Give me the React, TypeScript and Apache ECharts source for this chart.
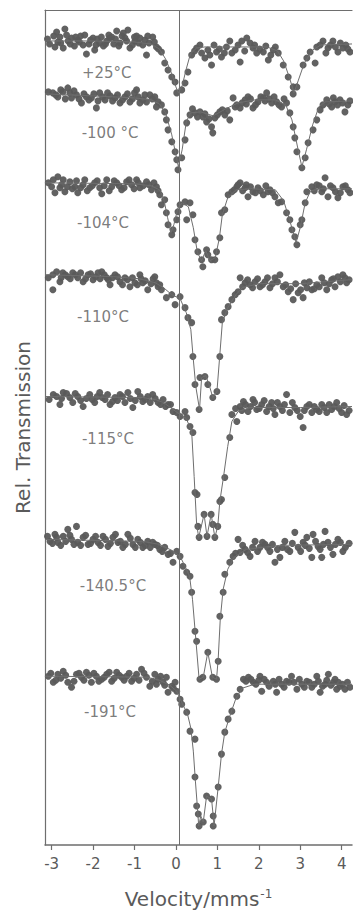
import React, { useEffect, useRef } from "react";
import * as echarts from "echarts";

// Velocity axis (mm/s)
const velocityMin = -3.16;
const velocityMax = 4.25;
const velocityTicks = [-3, -2, -1, 0, 1, 2, 3, 4];
const zeroLineVelocity = 0.07;

// Stacked spectra: vertical range (arbitrary transmission units) and offsets
const transmissionMin = 0;
const transmissionMax = 836;
const temperatures = ["+25°C", "-100 °C", "-104°C", "-110°C", "-115°C", "-140.5°C", "-191°C"];
const baselines = [805, 751, 663, 571, 449, 306, 169];
// label anchor: [velocity, offset from baseline]
const labelAnchors = [
  [-1.67, -32], [-1.59, -38], [-1.76, -40], [-1.76, -42], [-1.64, -43], [-1.52, -47], [-1.59, -36],
];

// Measured points: [velocity, relative transmission change]
const pts25 = [
  [-3.05, -3], [-2.92, -6], [-2.88, 9], [-2.85, -1], [-2.8, 4], [-2.72, -7], [-2.68, 12], [-2.6, 0],
  [-2.52, 3], [-2.45, -5], [-2.37, 1], [-2.3, 5], [-2.24, -4], [-2.16, -13], [-2.1, -3], [-2.0, 3],
  [-1.96, -9], [-1.9, 2], [-1.84, -2], [-1.75, -5], [-1.67, 0], [-1.6, 3], [-1.55, 4], [-1.5, -3],
  [-1.43, 10], [-1.35, -2], [-1.3, 5], [-1.23, 3], [-1.16, 11], [-1.11, -7], [-1.05, -4], [-0.99, 0],
  [-0.95, 5], [-0.87, 3], [-0.8, -4], [-0.71, -14], [-0.65, -2], [-0.56, 4], [-0.47, -6], [-0.35, -11],
  [-0.27, -22], [-0.19, -29], [-0.1, -36], [-0.02, -41], [0.02, -52], [0.14, -49], [0.22, -42], [0.29, -31],
  [0.38, -14], [0.5, -7], [0.58, -4], [0.7, -17], [0.77, -9], [0.86, -24], [0.98, -11], [1.1, -16],
  [1.22, -6], [1.3, 0], [1.43, -9], [1.55, -21], [1.59, 0], [1.71, 3], [1.86, -7], [1.95, -12],
  [2.11, -11], [2.23, -19], [2.35, -9], [2.47, -12], [2.59, -24], [2.71, -36], [2.83, -46], [2.83, -53],
  [2.92, -46], [3.07, -24], [3.16, -17], [3.24, -11], [3.36, -22], [3.4, -6], [3.55, 0], [3.67, -7],
  [3.79, 0], [3.91, -11], [4.03, -7], [4.2, -11],
  [-3.1, 2], [-2.95, 5], [-2.78, -2], [-2.64, 6], [-2.55, -3], [-2.42, 4], [-2.33, -1], [-2.2, 6],
  [-2.06, 1], [-1.93, -4], [-1.8, 4], [-1.7, -3], [-1.62, 6], [-1.46, 2], [-1.38, -5], [-1.27, 8],
  [-1.19, 0], [-1.0, 4], [-0.9, -2], [-0.75, 1], [-0.68, 5], [-0.52, -1], [-0.42, -8], [0.45, -10],
  [0.62, -12], [0.82, -14], [0.92, -4], [1.05, -8], [1.17, -12], [1.35, -12], [1.5, -4], [1.66, -10],
  [1.79, -2], [1.9, -4], [2.02, -8], [2.17, -5], [2.29, -14], [2.4, -6], [3.48, -4], [3.62, -12],
  [3.73, -4], [3.85, -6], [3.97, -2], [4.1, -4], [4.15, -8],
];
const pts100 = [
  [-2.97, 2], [-2.85, -2], [-2.73, 3], [-2.61, 7], [-2.52, -3], [-2.4, 0], [-2.28, -8], [-2.16, -2],
  [-2.04, -3], [-1.92, -13], [-1.84, 2], [-1.71, -5], [-1.59, -1], [-1.47, -3], [-1.35, -8], [-1.23, -2],
  [-1.11, -7], [-0.95, 5], [-0.87, -8], [-0.71, -7], [-0.63, 0], [-0.51, -2], [-0.43, -7], [-0.35, -10],
  [-0.27, -17], [-0.23, -25], [-0.19, -35], [-0.1, -47], [-0.02, -57], [0.02, -65], [0.05, -75], [0.14, -63],
  [0.22, -45], [0.26, -28], [0.34, -20], [0.46, -18], [0.58, -17], [0.65, -22], [0.74, -27], [0.86, -32],
  [0.89, -38], [0.94, -23], [1.06, -17], [1.18, -20], [1.3, -25], [1.38, -3], [1.47, -10], [1.55, -13],
  [1.67, -5], [1.74, -2], [1.86, -13], [1.98, -7], [2.11, -3], [2.19, 2], [2.31, -8], [2.43, -7],
  [2.55, -12], [2.67, -8], [2.75, -18], [2.83, -32], [2.87, -43], [2.92, -57], [3.04, -73], [3.12, -63],
  [3.19, -48], [3.31, -35], [3.4, -25], [3.48, -15], [3.55, -10], [3.64, -5], [3.76, -12], [3.84, -7],
  [3.96, -5], [4.08, -17], [4.15, -10],
  [-3.08, 3], [-2.9, 0], [-2.78, 5], [-2.67, -4], [-2.56, 2], [-2.46, 4], [-2.34, -4], [-2.22, 1],
  [-2.1, -5], [-1.98, 1], [-1.88, -6], [-1.77, -2], [-1.65, 2], [-1.53, -6], [-1.41, 0], [-1.29, -5],
  [-1.17, 1], [-1.05, -4], [-1.0, 2], [-0.91, -2], [-0.8, -5], [-0.75, 0], [-0.57, -4], [-0.47, -12],
  [0.4, -14], [0.52, -22], [0.7, -19], [0.8, -24], [1.0, -20], [1.12, -15], [1.24, -16], [1.43, -12],
  [1.6, -8], [1.7, -9], [1.8, -4], [1.92, -10], [2.05, -2], [2.15, -6], [2.25, -4], [2.37, -2],
  [2.49, -10], [2.61, -4], [3.7, -9], [3.8, -3], [3.9, -10], [4.02, -8], [4.2, -6],
];
const pts104 = [
  [-3.0, -4], [-2.92, -10], [-2.85, 6], [-2.76, -2], [-2.68, -9], [-2.56, 1], [-2.44, -4], [-2.37, -10],
  [-2.24, -2], [-2.2, 3], [-2.08, -5], [-1.96, 0], [-1.79, -11], [-1.67, 3], [-1.55, -4], [-1.43, 0],
  [-1.31, -7], [-1.19, 1], [-1.07, -2], [-0.95, 3], [-0.87, -5], [-0.71, 1], [-0.59, -7], [-0.47, -4],
  [-0.39, -12], [-0.35, -22], [-0.27, -17], [-0.23, -30], [-0.19, -42], [-0.1, -52], [-0.07, -47], [0.02, -37],
  [0.05, -29], [0.1, -22], [0.22, -19], [0.26, -37], [0.34, -20], [0.41, -32], [0.46, -57], [0.53, -69],
  [0.62, -77], [0.65, -84], [0.74, -67], [0.77, -72], [0.86, -77], [0.94, -77], [0.98, -69], [1.06, -55],
  [1.1, -30], [1.18, -27], [1.26, -12], [1.35, -9], [1.47, -4], [1.55, 0], [1.67, -5], [1.74, -14],
  [1.86, -9], [1.98, -5], [2.11, -12], [2.27, -7], [2.39, -14], [2.47, -20], [2.55, -19], [2.67, -30],
  [2.75, -37], [2.8, -47], [2.87, -54], [2.92, -62], [3.0, -42], [3.04, -37], [3.12, -20], [3.16, -9],
  [3.28, -4], [3.4, -2], [3.52, -9], [3.6, 5], [3.67, -14], [3.79, -5], [3.91, -15], [4.03, -4], [4.15, -7],
  [-3.08, 0], [-2.96, 3], [-2.8, -5], [-2.72, 3], [-2.62, -4], [-2.5, -6], [-2.4, 2], [-2.3, -5],
  [-2.14, -8], [-2.02, -3], [-1.9, 2], [-1.84, -5], [-1.73, -3], [-1.61, -8], [-1.49, 2], [-1.37, -3],
  [-1.25, -5], [-1.13, 3], [-1.01, -6], [-0.91, 0], [-0.79, -3], [-0.65, -2], [-0.53, 0], [-0.43, -8],
  [1.41, -7], [1.5, -2], [1.61, -8], [1.7, -2], [1.8, -4], [1.92, -10], [2.04, -8], [2.17, -3],
  [2.22, -9], [2.33, -10], [3.34, -8], [3.46, -3], [3.56, -6], [3.73, -3], [3.85, -9], [3.97, -10],
  [4.09, -3], [4.2, -10],
];
const pts110 = [
  [-2.97, 0], [-2.97, -15], [-2.8, -7], [-2.73, 2], [-2.61, -2], [-2.49, 2], [-2.37, -3], [-2.24, -7],
  [-2.12, 0], [-2.0, -5], [-1.88, 2], [-1.79, 3], [-1.67, -3], [-1.59, -10], [-1.47, 0], [-1.35, -7],
  [-1.23, -3], [-1.11, -12], [-0.99, -8], [-0.87, 0], [-0.8, -8], [-0.68, -15], [-0.51, -2], [-0.43, -12],
  [-0.35, -15], [-0.23, -23], [-0.1, -20], [-0.02, -30], [0.1, -22], [0.22, -33], [0.29, -43], [0.38, -48],
  [0.41, -82], [0.46, -110], [0.56, -135], [0.58, -103], [0.7, -102], [0.77, -110], [0.89, -123], [0.99, -117],
  [1.06, -82], [1.1, -45], [1.18, -38], [1.26, -32], [1.35, -25], [1.43, -20], [1.5, -17], [1.55, -3],
  [1.67, -8], [1.79, -10], [1.91, -7], [2.03, -12], [2.15, -7], [2.27, -13], [2.39, -3], [2.51, 0],
  [2.59, -12], [2.71, -17], [2.83, -25], [2.95, -18], [3.07, -23], [3.16, -13], [3.28, -15], [3.4, -10],
  [3.52, -3], [3.64, -15], [3.76, -5], [3.84, -12], [3.91, -2], [4.03, 0], [4.12, -8],
  [-3.08, -3], [-2.88, 3], [-2.77, -3], [-2.67, 0], [-2.55, -4], [-2.43, 0], [-2.3, 2], [-2.18, -4],
  [-2.06, 1], [-1.94, -2], [-1.83, -4], [-1.73, 0], [-1.63, -5], [-1.53, -3], [-1.41, -2], [-1.29, -10],
  [-1.17, -5], [-1.05, -3], [-0.93, -10], [-0.84, -4], [-0.74, -6], [-0.6, -9], [-0.55, -4], [-0.47, -8],
  [-0.39, -10], [1.61, -12], [1.73, -5], [1.85, -13], [1.97, -4], [2.09, -10], [2.21, -3], [2.33, -9],
  [2.45, -7], [2.65, -10], [2.77, -14], [2.89, -9], [3.01, -15], [3.1, -8], [3.22, -7], [3.34, -14],
  [3.46, -12], [3.58, -8], [3.7, -9], [3.8, -4], [3.97, -7], [4.08, -3], [4.18, -5],
];
const pts115 = [
  [-2.96, 2], [-2.8, -8], [-2.72, 4], [-2.56, -1], [-2.49, -6], [-2.37, 0], [-2.24, -10], [-2.08, 2],
  [-1.96, -6], [-1.84, 4], [-1.71, -3], [-1.59, -8], [-1.47, -1], [-1.35, 2], [-1.23, -6], [-1.16, 4],
  [-1.04, -11], [-0.92, 5], [-0.8, -5], [-0.68, 0], [-0.56, 2], [-0.43, -6], [-0.31, -3], [-0.19, -8],
  [-0.07, -15], [0.1, -20], [0.22, -15], [0.26, -21], [0.34, -30], [0.41, -36], [0.46, -96], [0.51, -98],
  [0.53, -130], [0.56, -141], [0.68, -118], [0.75, -140], [0.85, -118], [0.89, -128], [0.94, -141], [1.01, -130],
  [1.06, -105], [1.1, -103], [1.18, -81], [1.3, -41], [1.35, -18], [1.47, -25], [1.55, -10], [1.63, -5],
  [1.74, -15], [1.86, -3], [1.95, -13], [2.07, -8], [2.19, -15], [2.31, -6], [2.39, -18], [2.51, -10],
  [2.67, 2], [2.75, -16], [2.87, -11], [3.0, -20], [3.07, -31], [3.16, -10], [3.28, -16], [3.4, -13],
  [3.52, -8], [3.64, -16], [3.76, -13], [3.88, -6], [4.0, -16], [4.12, -18],
  [-3.06, -3], [-2.88, 0], [-2.76, -2], [-2.64, 3], [-2.43, 3], [-2.3, -4], [-2.16, -2], [-2.02, -3],
  [-1.9, 0], [-1.78, -1], [-1.65, 2], [-1.53, -5], [-1.41, -4], [-1.29, 0], [-1.1, -2], [-0.98, -4],
  [-0.86, 0], [-0.74, -3], [-0.62, -6], [-0.5, -2], [-0.37, -8], [-0.25, -10], [-0.13, -8], [0.02, -16],
  [1.44, -12], [1.59, -14], [1.68, -8], [1.8, -10], [1.9, -6], [2.01, -12], [2.13, -4], [2.25, -10],
  [2.35, -12], [2.45, -6], [2.57, -14], [2.62, -8], [2.81, -6], [2.93, -14], [3.1, -14], [3.22, -8],
  [3.34, -10], [3.46, -15], [3.58, -11], [3.7, -8], [3.82, -10], [3.94, -12], [4.06, -9], [4.18, -14],
];
const pts140 = [
  [-3.04, -2], [-2.92, 5], [-2.85, -3], [-2.72, 3], [-2.61, 10], [-2.52, 0], [-2.4, 13], [-2.37, -3],
  [-2.24, 2], [-2.12, -5], [-2.0, 0], [-1.88, -3], [-1.76, 3], [-1.64, -7], [-1.52, 2], [-1.4, -3],
  [-1.28, -8], [-1.16, 5], [-1.04, -5], [-0.92, 0], [-0.8, -8], [-0.68, -2], [-0.51, -5], [-0.39, -10],
  [-0.27, -8], [-0.19, -15], [-0.07, -23], [0.02, -12], [0.1, -17], [0.17, -27], [0.26, -33], [0.34, -37],
  [0.38, -53], [0.46, -92], [0.5, -102], [0.58, -140], [0.65, -138], [0.77, -113], [0.89, -138], [0.98, -140],
  [1.02, -122], [1.06, -77], [1.14, -53], [1.18, -35], [1.3, -23], [1.38, -17], [1.5, 0], [1.55, -13],
  [1.67, -10], [1.79, -17], [1.91, -2], [2.03, -8], [2.15, -5], [2.27, -12], [2.39, -23], [2.51, -18],
  [2.63, -2], [2.75, -12], [2.87, 7], [2.95, -8], [3.07, -3], [3.16, 2], [3.28, -18], [3.31, 5],
  [3.43, -7], [3.52, -18], [3.6, 8], [3.67, -3], [3.79, -15], [3.91, 0], [4.03, -12],
  [-3.1, 3], [-2.98, -4], [-2.88, 2], [-2.78, -6], [-2.66, -2], [-2.56, 4], [-2.46, -5], [-2.3, -6],
  [-2.18, 4], [-2.06, -4], [-1.94, 3], [-1.82, -6], [-1.7, 0], [-1.58, -4], [-1.46, 5], [-1.34, -2],
  [-1.22, -5], [-1.1, 1], [-0.98, -8], [-0.86, -3], [-0.74, -6], [-0.62, -8], [-0.56, -3], [-0.45, -6],
  [-0.33, -12], [-0.13, -14], [1.44, -14], [1.61, -6], [1.73, -13], [1.85, -8], [1.97, -12], [2.09, -3],
  [2.21, -8], [2.33, -5], [2.45, -10], [2.57, -8], [2.69, -10], [2.81, -4], [3.01, -12], [3.12, -6],
  [3.22, -9], [3.37, -2], [3.48, -10], [3.56, -5], [3.73, -8], [3.85, -5], [3.97, -3], [4.09, -8], [4.18, -4],
];
const pts191 = [
  [-3.08, 0], [-2.96, -6], [-2.85, 2], [-2.72, 5], [-2.61, -6], [-2.52, -11], [-2.4, 2], [-2.28, -1],
  [-2.16, 4], [-2.04, -6], [-1.92, 0], [-1.79, -3], [-1.67, 2], [-1.55, -5], [-1.43, 4], [-1.31, -1],
  [-1.19, 0], [-1.07, -5], [-0.95, 2], [-0.83, 7], [-0.71, -1], [-0.63, -10], [-0.51, 2], [-0.43, -3],
  [-0.31, -6], [-0.23, -1], [-0.19, -16], [-0.1, -10], [-0.02, -6], [0.02, -15], [0.1, -23], [0.14, -28],
  [0.26, -36], [0.34, -55], [0.46, -63], [0.46, -101], [0.5, -130], [0.54, -138], [0.56, -150], [0.66, -146],
  [0.74, -120], [0.86, -123], [0.9, -140], [0.9, -150], [1.02, -111], [1.1, -78], [1.18, -56], [1.26, -43],
  [1.35, -35], [1.47, -20], [1.55, -13], [1.63, -3], [1.75, -1], [1.87, -6], [2.03, 0], [2.07, -15],
  [2.19, -6], [2.35, -5], [2.43, -16], [2.55, -8], [2.67, -5], [2.79, 0], [2.92, -13], [3.04, -8],
  [3.16, -5], [3.28, -11], [3.4, 0], [3.48, -16], [3.6, -8], [3.68, 2], [3.8, -6], [3.88, -13],
  [3.96, -10], [4.08, -13],
  [-3.02, 3], [-2.9, -4], [-2.78, -2], [-2.66, 1], [-2.46, -5], [-2.34, 3], [-2.22, -4], [-2.1, 1],
  [-1.98, 3], [-1.86, -5], [-1.73, -1], [-1.61, 4], [-1.49, -2], [-1.37, 1], [-1.25, -4], [-1.13, 3],
  [-1.01, -2], [-0.89, -4], [-0.77, 3], [-0.57, -5], [-0.47, -8], [-0.37, 0], [-0.27, -9], [-0.06, -12],
  [1.69, -5], [1.81, -3], [1.93, -8], [2.0, -4], [2.13, -3], [2.25, -10], [2.4, -8], [2.49, -3],
  [2.61, -11], [2.73, -6], [2.85, -6], [2.98, -3], [3.1, -11], [3.22, -6], [3.34, -8], [3.44, -5],
  [3.54, -10], [3.64, -4], [3.74, -9], [3.84, -3], [3.92, -6], [4.02, -8], [4.14, -6], [4.2, -11],
];

// Fitted curves: [velocity, relative transmission change]
const fit25 = [
  [-3.16, 0], [-2.0, 0], [-1.0, -1], [-0.6, -3], [-0.4, -8], [-0.25, -18], [-0.1, -33], [0.0, -46],
  [0.06, -52], [0.15, -45], [0.25, -28], [0.35, -13], [0.5, -7], [0.7, -6], [1.5, -6], [2.2, -6],
  [2.45, -10], [2.6, -20], [2.75, -38], [2.85, -52], [2.95, -40], [3.1, -22], [3.3, -9], [3.5, -4], [4.25, -3],
];
const fit100 = [
  [-3.16, 1], [-2.0, -1], [-1.0, -3], [-0.6, -5], [-0.4, -9], [-0.25, -18], [-0.1, -40], [0.0, -60],
  [0.06, -72], [0.15, -55], [0.25, -27], [0.35, -18], [0.6, -17], [0.9, -21], [1.2, -14], [1.5, -8],
  [1.9, -5], [2.4, -5], [2.65, -10], [2.8, -25], [2.95, -55], [3.04, -72], [3.15, -55], [3.3, -30],
  [3.45, -12], [3.6, -7], [4.25, -6],
];
const fit104 = [
  [-3.16, 0], [-1.0, -1], [-0.6, -3], [-0.4, -7], [-0.3, -15], [-0.2, -35], [-0.12, -50], [-0.05, -42],
  [0.05, -25], [0.15, -20], [0.3, -24], [0.42, -45], [0.52, -70], [0.62, -78], [0.72, -68], [0.82, -78],
  [0.95, -75], [1.05, -55], [1.12, -32], [1.25, -15], [1.45, -7], [1.8, -6], [2.4, -7], [2.6, -18],
  [2.75, -38], [2.9, -60], [3.0, -45], [3.12, -20], [3.25, -8], [3.5, -6], [4.25, -6],
];
const fit110 = [
  [-3.16, 0], [-1.5, -2], [-0.9, -4], [-0.5, -8], [-0.3, -13], [-0.1, -20], [0.1, -24], [0.25, -38],
  [0.36, -55], [0.42, -85], [0.48, -112], [0.57, -135], [0.62, -103], [0.72, -101], [0.8, -110], [0.89, -123],
  [0.99, -117], [1.06, -80], [1.12, -48], [1.25, -33], [1.45, -20], [1.6, -13], [2.0, -9], [3.0, -9], [4.25, -5],
];
const fit115 = [
  [-3.16, 0], [-0.8, -1], [-0.5, -3], [-0.3, -6], [-0.1, -12], [0.1, -18], [0.25, -22], [0.38, -35],
  [0.44, -80], [0.5, -128], [0.55, -141], [0.68, -118], [0.75, -140], [0.85, -118], [0.89, -128], [0.94, -141],
  [1.01, -130], [1.06, -105], [1.15, -80], [1.25, -50], [1.35, -25], [1.5, -15], [1.8, -11], [3.0, -11], [4.25, -10],
];
const fit140 = [
  [-3.16, 0], [-0.8, -2], [-0.4, -5], [-0.1, -11], [0.1, -17], [0.22, -27], [0.33, -37], [0.4, -60],
  [0.48, -100], [0.56, -140], [0.66, -138], [0.77, -113], [0.88, -138], [0.98, -140], [1.02, -120], [1.07, -80],
  [1.14, -50], [1.25, -30], [1.4, -18], [1.7, -10], [2.5, -6], [4.25, -5],
];
const fit191 = [
  [-3.16, 0], [-0.7, -1], [-0.4, -4], [-0.15, -9], [0.02, -15], [0.15, -27], [0.28, -38], [0.36, -52],
  [0.42, -75], [0.47, -105], [0.52, -132], [0.55, -150], [0.6, -140], [0.66, -146], [0.74, -120], [0.86, -123],
  [0.9, -140], [0.92, -150], [1.02, -111], [1.1, -78], [1.18, -56], [1.3, -40], [1.45, -22], [1.6, -12],
  [1.9, -8], [4.25, -8],
];

const pointSets = [pts25, pts100, pts104, pts110, pts115, pts140, pts191];
const fitSets = [fit25, fit100, fit104, fit110, fit115, fit140, fit191];

const INK = "#5a5a5a";
const LINE = "#6e6e6e";
const FONT = "DejaVu Sans";

export default function App() {
  const ref = useRef<HTMLDivElement>(null);
  useEffect(() => {
    if (!ref.current) return;
    const chart = echarts.init(ref.current, undefined, { renderer: "svg" });
    const series: any[] = [];
    pointSets.forEach((pts, i) => {
      const base = baselines[i];
      series.push({
        type: "line",
        data: fitSets[i].map(([v, d]) => [v, base + d]),
        symbol: "none",
        lineStyle: { color: LINE, width: 1 },
        z: 3,
        silent: true,
        ...(i === 0
          ? {
              markLine: {
                silent: true,
                symbol: "none",
                label: { show: false },
                lineStyle: { color: LINE, width: 1, type: "solid" },
                data: [{ xAxis: zeroLineVelocity }],
              },
            }
          : {}),
      });
      series.push({
        type: "scatter",
        data: pts.map(([v, d]) => [v, base + d]),
        symbolSize: 7,
        itemStyle: { color: INK, opacity: 0.95 },
        z: 2,
        silent: true,
      });
    });
    series.push({
      type: "scatter",
      symbolSize: 0,
      silent: true,
      data: labelAnchors.map(([v, d], i) => ({ value: [v, baselines[i] + d], name: temperatures[i] })),
      label: {
        show: true,
        position: "inside",
        formatter: (p: any) => p.name,
        fontSize: 15,
        fontFamily: FONT,
        color: INK,
      },
    });

    chart.setOption({
      animation: false,
      backgroundColor: "#ffffff",
      grid: { left: 45, right: 1, top: 10, bottom: 68 },
      xAxis: [
        {
          type: "value",
          min: velocityMin,
          max: velocityMax,
          position: "bottom",
          splitLine: { show: false },
          axisLine: { show: true, onZero: false, lineStyle: { color: LINE, width: 1.5 } },
          axisTick: { show: true, customValues: velocityTicks, length: 5, lineStyle: { color: LINE, width: 1.2 } },
          axisLabel: {
            customValues: velocityTicks,
            fontSize: 15,
            fontFamily: FONT,
            color: INK,
            margin: 11,
          },
          name: "{a|Velocity/mms}{b|-1}",
          nameLocation: "middle",
          nameGap: 43,
          nameTextStyle: {
            rich: {
              a: { fontSize: 20, fontFamily: FONT, color: INK },
              b: { fontSize: 12, fontFamily: FONT, color: INK, verticalAlign: "top", padding: [0, 0, 10, 1] },
            },
          },
        },
        {
          type: "value",
          min: velocityMin,
          max: velocityMax,
          position: "top",
          splitLine: { show: false },
          axisLine: { show: true, onZero: false, lineStyle: { color: LINE, width: 1.2 } },
          axisTick: { show: false },
          axisLabel: { show: false },
        },
      ],
      yAxis: {
        type: "value",
        min: transmissionMin,
        max: transmissionMax,
        splitLine: { show: false },
        axisLine: { show: true, onZero: false, lineStyle: { color: LINE, width: 1.2 } },
        axisTick: { show: false },
        axisLabel: { show: false },
        name: "Rel. Transmission",
        nameLocation: "middle",
        nameGap: 12,
        nameRotate: 90,
        nameTextStyle: { fontSize: 20, fontFamily: FONT, color: INK },
      },
      series,
    });
    return () => chart.dispose();
  }, []);
  return <div ref={ref} style={{ position: "fixed", left: 0, top: 0, width: 353, height: 914 }} />;
}
